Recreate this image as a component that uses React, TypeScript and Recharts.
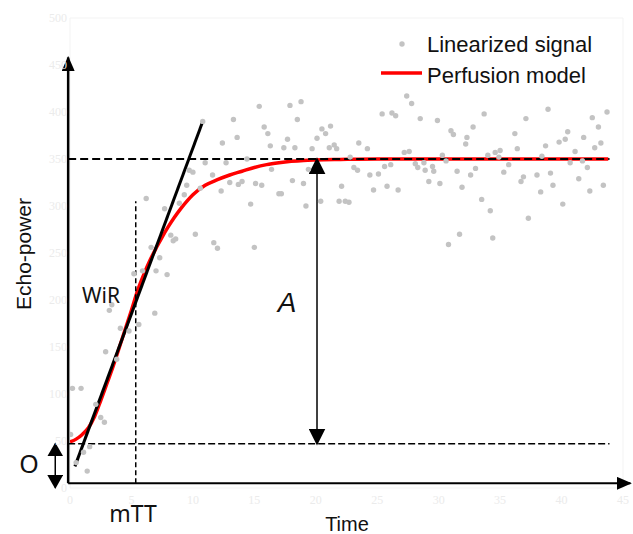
import React from "react";
import {
  ComposedChart,
  Scatter,
  Line,
  XAxis,
  YAxis,
  ReferenceLine,
  ReferenceArea,
} from "recharts";

// values
const xTicks = [0, 5, 10, 15, 20, 25, 30, 35, 40, 45];
const yTicks = [0, 50, 100, 150, 200, 250, 300, 350, 400, 450, 500];

const signalTime = [
  0.05, 0.2, 0.5, 0.9, 1.1, 1.4, 1.6, 2.1, 2.5, 2.8, 2.9, 3.2, 3.4, 3.8, 4.1, 4.8, 5.2, 5.6, 5.9, 6.2,
  6.6, 6.9, 7.0, 7.3, 7.7, 7.9, 8.2, 8.4, 8.6, 8.9, 9.3, 9.5, 9.7, 10.0, 10.2, 10.6, 10.8, 11.0, 11.6, 11.7,
  12.0, 12.3, 12.4, 12.7, 13.0, 13.3, 13.6, 13.7, 14.0, 14.4, 14.7, 15.0, 15.1, 15.4, 15.6, 15.8, 16.1, 16.3, 16.4, 17.0,
  17.2, 17.4, 17.7, 17.9, 18.1, 18.3, 18.5, 18.8, 19.0, 19.2, 19.4, 19.7, 20.1, 20.4, 20.5, 20.8, 21.1, 21.2, 21.5, 21.7,
  21.9, 22.1, 22.4, 22.7, 22.8, 23.1, 23.4, 23.5, 24.2, 24.4, 24.7, 25.1, 25.4, 25.6, 25.8, 26.1, 26.2, 26.5, 26.7, 27.2,
  27.4, 27.6, 27.8, 28.1, 28.3, 28.5, 28.8, 28.9, 29.2, 29.5, 29.6, 29.9, 30.1, 30.3, 30.6, 30.8, 31.0, 31.2, 31.5, 31.7,
  31.9, 32.2, 32.3, 32.6, 32.8, 33.0, 33.5, 33.7, 34.0, 34.2, 34.4, 34.6, 34.9, 35.0, 35.3, 35.7, 36.2, 36.4, 36.7, 36.9,
  37.1, 37.3, 38.0, 38.3, 38.4, 38.7, 38.9, 39.1, 39.3, 39.8, 40.1, 40.3, 40.5, 40.7, 41.1, 41.4, 41.7, 41.8, 42.1, 42.3,
  42.5, 42.7, 43.0, 43.2, 43.4, 43.7,
];
const signalPower = [
  57, 106, 27, 106, 38, 18, 44, 89, 75, 70, 145, 189, 195, 137, 170, 167, 228, 174, 231, 308,
  256, 186, 231, 245, 297, 227, 269, 263, 265, 303, 312, 322, 338, 336, 270, 319, 390, 346, 333, 261,
  255, 316, 367, 346, 325, 392, 373, 323, 326, 350, 302, 256, 324, 406, 322, 384, 377, 364, 339, 313,
  313, 362, 371, 407, 327, 362, 392, 411, 324, 300, 339, 361, 372, 305, 382, 377, 362, 385, 365, 361,
  305, 321, 305, 304, 352, 341, 338, 367, 361, 333, 317, 334, 398, 342, 321, 344, 399, 396, 317, 357,
  417, 358, 409, 345, 341, 393, 346, 338, 326, 342, 337, 391, 324, 354, 348, 259, 380, 376, 337, 270,
  320, 366, 373, 333, 384, 340, 307, 398, 354, 295, 266, 357, 352, 359, 336, 344, 377, 361, 326, 331,
  393, 287, 333, 315, 353, 364, 403, 335, 322, 368, 302, 371, 379, 346, 358, 329, 348, 373, 341, 316,
  394, 362, 384, 367, 322, 400,
];

const modelTime = [
  0, 0.5, 1, 1.5, 2, 2.5, 3, 3.5, 4, 4.5, 5, 5.5, 6, 6.5, 7, 7.5, 8, 8.5, 9, 9.5,
  10, 11, 12, 13, 14, 15, 16, 17, 18, 19, 20, 22, 25, 30, 35, 40, 43.8,
];
const modelPower = [
  49, 52, 57, 64, 76, 93, 111, 129, 149, 169, 189, 210, 227, 242, 255, 267, 278, 288, 297, 305,
  312, 322, 328, 333, 337, 341, 344, 346, 347.5, 348.5, 349, 349.5, 350, 350, 350, 350, 350,
];

const signalData = signalTime.map((t, i) => ({ t, v: signalPower[i] }));
const modelData = modelTime.map((t, i) => ({ t, v: modelPower[i] }));

const sans = "'Liberation Sans', Arial, sans-serif";
const noto = "'Noto Sans', sans-serif";
const faint = { fill: "#ebebeb", fontFamily: "'Liberation Serif', serif", fontSize: 12 };

function Head({ id, len, wid }: { id: string; len: number; wid: number }) {
  return (
    <marker
      id={id}
      viewBox="0 0 10 10"
      refX="9"
      refY="5"
      markerUnits="userSpaceOnUse"
      markerWidth={len}
      markerHeight={wid}
      preserveAspectRatio="none"
      orient="auto-start-reverse"
    >
      <path d="M0,0 L10,5 L0,10 z" fill="#000" />
    </marker>
  );
}

const Dot = (p: any) => <circle cx={p.cx} cy={p.cy} r={2.7} fill="#c3c3c3" />;

export default function App() {
  return (
    <div style={{ position: "absolute", left: 0, top: 0, width: 633, height: 534, background: "#fff" }}>
      <ComposedChart width={633} height={534} margin={{ top: 18, right: 10, bottom: 20, left: 30 }}>
        <defs>
          <Head id="hAxis" len={15} wid={13} />
          <Head id="hA" len={17} wid={17} />
          <Head id="hO" len={14} wid={16} />
        </defs>
        <XAxis
          type="number"
          dataKey="t"
          domain={[0, 45]}
          ticks={xTicks}
          height={26}
          tickSize={0}
          tickMargin={7}
          axisLine={false}
          tick={faint}
          allowDataOverflow
        />
        <YAxis
          type="number"
          dataKey="v"
          domain={[0, 500]}
          ticks={yTicks}
          width={40}
          tickSize={0}
          tickMargin={3}
          axisLine={false}
          tick={faint}
          allowDataOverflow
        />
        <ReferenceArea x1={0} x2={45} y1={0} y2={500} fill="none" stroke="#f3f3f3" />
        <Scatter data={signalData} shape={Dot} isAnimationActive={false} legendType="none" />
        <Line
          data={modelData}
          dataKey="v"
          type="monotone"
          stroke="#ff0000"
          strokeWidth={3.5}
          dot={false}
          isAnimationActive={false}
        />
        {/* plateau and offset levels */}
        <ReferenceLine
          segment={[{ x: -0.15, y: 350 }, { x: 43.9, y: 350 }]}
          stroke="#000"
          strokeWidth={2}
          strokeDasharray="8 4"
          ifOverflow="visible"
        />
        <ReferenceLine
          segment={[{ x: -0.15, y: 47 }, { x: 43.9, y: 47 }]}
          stroke="#000"
          strokeWidth={1.5}
          strokeDasharray="7 3"
          ifOverflow="visible"
        />
        {/* mTT marker and wash-in tangent */}
        <ReferenceLine
          segment={[{ x: 5.35, y: 5 }, { x: 5.35, y: 305 }]}
          stroke="#000"
          strokeWidth={1.5}
          strokeDasharray="5 3"
          ifOverflow="visible"
        />
        <ReferenceLine
          segment={[{ x: 0.4, y: 23 }, { x: 10.8, y: 390 }]}
          stroke="#000"
          strokeWidth={3}
          ifOverflow="visible"
        />
        {/* drawn axes */}
        <ReferenceLine
          segment={[{ x: -0.15, y: 5 }, { x: -0.15, y: 458 }]}
          stroke="#000"
          strokeWidth={2.5}
          markerEnd="url(#hAxis)"
          ifOverflow="visible"
        />
        <ReferenceLine
          segment={[{ x: -0.15, y: 5 }, { x: 45.6, y: 5 }]}
          stroke="#000"
          strokeWidth={2}
          markerEnd="url(#hAxis)"
          ifOverflow="visible"
        />
        {/* amplitude and offset arrows */}
        <ReferenceLine
          segment={[{ x: 20.1, y: 47 }, { x: 20.1, y: 350 }]}
          stroke="#000"
          strokeWidth={1.5}
          markerStart="url(#hA)"
          markerEnd="url(#hA)"
          ifOverflow="visible"
        />
        <ReferenceLine
          segment={[{ x: -1.2, y: 0.5 }, { x: -1.2, y: 47 }]}
          stroke="#000"
          strokeWidth={1.5}
          markerStart="url(#hO)"
          markerEnd="url(#hO)"
          ifOverflow="visible"
        />
      </ComposedChart>
      <svg
        width={633}
        height={534}
        style={{ position: "absolute", left: 0, top: 0, pointerEvents: "none" }}
      >
        <text x={31} y={254} transform="rotate(-90 31 254)" textAnchor="middle" fontFamily={sans} fontSize={21} fill="#111">
          Echo-power
        </text>
        <text x={347} y={531} textAnchor="middle" fontFamily={sans} fontSize={20} fill="#111">
          Time
        </text>
        <text x={133} y={522} textAnchor="middle" fontFamily={noto} fontSize={23} fill="#111">
          mTT
        </text>
        <text x={82} y={303} fontFamily={noto} fontSize={21} fill="#111">
          WiR
        </text>
        <text x={287} y={312} textAnchor="middle" fontFamily={sans} fontStyle="italic" fontSize={28} fill="#111">
          A
        </text>
        <text x={29} y={473} textAnchor="middle" fontFamily={noto} fontSize={25} fill="#111">
          O
        </text>
        <circle cx={402} cy={44} r={2.7} fill="#c3c3c3" />
        <text x={427} y={52} fontFamily={sans} fontSize={22} fill="#111">
          Linearized signal
        </text>
        <line x1={381} y1={73} x2={422} y2={73} stroke="#ff0000" strokeWidth={3.5} />
        <text x={427} y={83} fontFamily={sans} fontSize={22} fill="#111">
          Perfusion model
        </text>
      </svg>
    </div>
  );
}
